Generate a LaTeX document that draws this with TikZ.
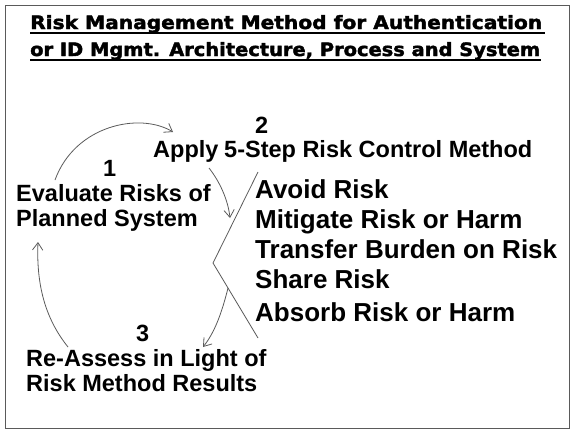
\documentclass[tikz,border=0pt]{standalone}
\usepackage{fontspec}
\setmainfont{Liberation Sans}
\newfontfamily\titlefont[FakeBold=2]{DejaVu Sans}
\usetikzlibrary{arrows.meta}
\definecolor{linegray}{RGB}{90,90,90}

\begin{document}
\begin{tikzpicture}[x=1pt, y=-1pt,
    curve/.style={draw=linegray, line width=0.8pt, -{Straight Barb[angle=70:9pt]}},
    body/.style={font=\bfseries\fontsize{23.5}{25}\selectfont, inner sep=0pt, anchor=base west},
    items/.style={font=\bfseries\fontsize{26}{30}\selectfont, inner sep=0pt, anchor=base west},
    heading/.style={font=\titlefont\bfseries, inner sep=0pt, anchor=base west}]
    \useasboundingbox (0,0) rectangle (575,432);
    \draw[linegray, line width=1pt] (5,5) rectangle (569,428); % frame

    \coordinate (A1s) at (55,180); % arrow from step 1 up to step 2
    \coordinate (A1e) at (173,132);
    \coordinate (A2s) at (209,168); % arrow from Apply down to the list
    \coordinate (A2e) at (230,218);
    \coordinate (Bt) at (258,172); % bracket round the five options
    \coordinate (Bm) at (213,263);
    \coordinate (Bb) at (258,338);
    \coordinate (A3s) at (228,288); % arrow from the list down to step 3
    \coordinate (A3e) at (203,347);
    \coordinate (A4s) at (68,347); % arrow from step 3 back to step 1
    \coordinate (A4e) at (38,242);

    % heading
    \node[heading] (head1) at (30,29) {\resizebox{512pt}{14pt}{Risk Management Method for Authentication}};
    \node[heading] (head2) at (30,56) {\resizebox{510pt}{14pt}{or ID Mgmt. Architecture, Process and System}};
    \draw[line width=2pt] ([yshift=-4pt]head1.base west) -- ++(515,0);
    \draw[line width=2pt] ([yshift=-4pt]head2.base west) -- ++(511,0);

    % step 1
    \node[body] (num1) at (103,176) {1};
    \node[body] (eval1) at (16,201) {Evaluate Risks of};
    \node[body] (eval2) at (16,226) {Planned System};

    % step 2
    \node[body] (num2) at (255,133) {2};
    \node[body] (apply) at (153,157) {Apply};
    \node[body] (method) at (224,157) {5-Step Risk Control Method};
    \node[items] (avoid) at (255,198) {Avoid Risk};
    \node[items] (mitigate) at (255,228) {Mitigate Risk or Harm};
    \node[items] (transfer) at (255,258) {Transfer Burden on Risk};
    \node[items] (share) at (255,288) {Share Risk};
    \node[items] (absorb) at (255,321) {Absorb Risk or Harm};

    % step 3
    \node[body] (num3) at (136,341) {3};
    \node[body] (reassess1) at (26,366) {Re-Assess in Light of};
    \node[body] (reassess2) at (26,391) {Risk Method Results};

    \draw[curve] (A1s) .. controls (75,125) and (140,112) .. (A1e);
    \draw[curve] (A2s) .. controls (220,182) and (228,200) .. (A2e);
    \draw[linegray, line width=0.8pt] (Bt) -- (Bm) -- (Bb);
    \draw[curve] (A3s) .. controls (222,312) and (215,332) .. (A3e);
    \draw[curve] (A4s) .. controls (48,322) and (36,290) .. (A4e);
\end{tikzpicture}
\end{document}
